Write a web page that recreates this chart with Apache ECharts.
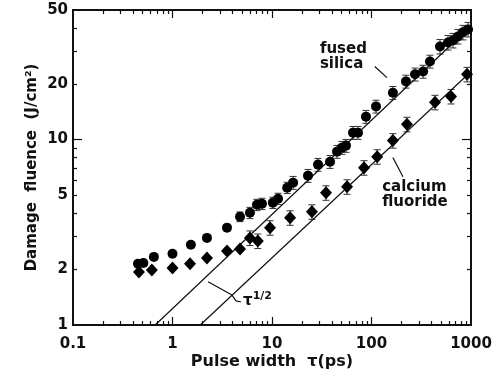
<!DOCTYPE html>
<html><head><meta charset="utf-8">
<script src="https://cdn.jsdelivr.net/npm/echarts@6/dist/echarts.min.js"></script>
<style>html,body{margin:0;padding:0;background:#fff}#c{width:494px;height:370px}</style>
</head><body><div id="c"></div>
<script>
// ---- data ----
const TAU_FS = [0.45,0.51,0.65,1.0,1.53,2.22,3.53,4.77,6.0,7.06,7.93,10.2,11.5,14.2,16.3,23.0,29.0,38.3,45.0,50.5,55.4,65.2,73.2,88.0,111,164,222,274,330,387,488,587,659,740,831,933];
const F_FS   = [2.14,2.16,2.33,2.42,2.71,2.95,3.35,3.84,4.03,4.45,4.51,4.57,4.80,5.50,5.86,6.39,7.33,7.60,8.61,9.05,9.28,10.9,10.9,13.3,15.1,17.9,20.6,22.5,23.3,26.4,31.8,33.4,34.3,36.0,37.9,39.3];
const ERR_FS = [0,0,0,0,0,0,0,0.06,0.07,0.07,0.07,0.07,0.07,0.07,0.08,0.08,0.08,0.08,0.08,0.08,0.08,0.08,0.08,0.08,0.08,0.08,0.08,0.08,0.08,0.08,0.09,0.09,0.09,0.09,0.09,0.09];
const TAU_CF = [0.46,0.62,1.0,1.50,2.22,3.53,4.77,6.0,7.2,9.55,15.2,25.2,34.9,56.8,84.1,114,164,227,435,630,912];
const F_CF   = [1.93,1.98,2.03,2.14,2.30,2.51,2.57,2.95,2.84,3.35,3.79,4.08,5.17,5.57,7.06,8.09,9.88,12.1,15.9,17.1,22.5];
const ERR_CF = [0,0,0,0,0,0,0,0.09,0.09,0.09,0.09,0.09,0.09,0.09,0.09,0.09,0.09,0.09,0.09,0.09,0.09];
const FIT_UPPER = [[0.67,1],[1000,41]];
const FIT_LOWER = [[1.9,1],[1000,23.3]];
const X_LABELS = [0.1,1,10,100,1000];
const X_MAJOR = [1,10,100];
const X_MINOR = [0.2,0.3,0.4,0.5,0.6,0.7,0.8,0.9,2,3,4,5,6,7,8,9,20,30,40,50,60,70,80,90,200,300,400,500,600,700,800,900];
const Y_LABELS = [1,2,5,10,20,50];
const Y_MAJOR = [10];
const Y_MINOR = [2,3,4,5,6,7,8,9,20,30,40];
const LABEL_FS = 'fused\nsilica';
const LABEL_CF = 'calcium\nfluoride';
const X_NAME = 'Pulse width  τ(ps)';
const Y_NAME = 'Damage  fluence  (J/cm²)';

// ---- chart ----
const FONT = 'DejaVu Sans';
const INK = '#111';
function pairs(xs, ys){ return xs.map((x,i)=>[x, ys[i]]); }
function errData(xs, ys, es){
  const out = [];
  xs.forEach((x,i)=>{ if (es[i] > 0) out.push([x, ys[i]*(1-es[i]), ys[i]*(1+es[i])]); });
  return out;
}
function errRender(params, api){
  const x = api.value(0), lo = api.value(1), hi = api.value(2);
  const a = api.coord([x, lo]), b = api.coord([x, hi]);
  const w = 3.5, st = {stroke:'#333', lineWidth:1};
  return {type:'group', children:[
    {type:'line', shape:{x1:a[0],y1:a[1],x2:b[0],y2:b[1]}, style:st},
    {type:'line', shape:{x1:a[0]-w,y1:a[1],x2:a[0]+w,y2:a[1]}, style:st},
    {type:'line', shape:{x1:b[0]-w,y1:b[1],x2:b[0]+w,y2:b[1]}, style:st}
  ]};
}
function axisBase(kind, pos, ticks, len, labels){
  return {
    type:'log', logBase:10, position:pos,
    min: kind==='x'?0.1:1, max: kind==='x'?1000:50,
    axisLine:{show:true, onZero:false, lineStyle:{color:INK, width:2}},
    axisTick:{show:true, inside:true, length:len, customValues:ticks, lineStyle:{color:INK, width:1.2}},
    axisLabel: labels ? {
      show:true, customValues:labels, color:INK, fontFamily:FONT, fontWeight:'bold', fontSize:15,
      margin: kind==='x'?12:5, formatter:(v)=>String(v)
    } : {show:false},
    splitLine:{show:false}, minorTick:{show:false}, minorSplitLine:{show:false}
  };
}
const xMain = axisBase('x','bottom',X_MAJOR,8,X_LABELS);
xMain.name = X_NAME; xMain.nameLocation = 'middle'; xMain.nameGap = 29; xMain.nameMoveOverlap = false;
xMain.nameTextStyle = {color:INK, fontFamily:FONT, fontWeight:'bold', fontSize:16};
const yMain = axisBase('y','left',Y_MAJOR,9,Y_LABELS);
yMain.name = Y_NAME; yMain.nameLocation = 'middle'; yMain.nameGap = 33; yMain.nameMoveOverlap = false;
yMain.nameTextStyle = {color:INK, fontFamily:FONT, fontWeight:'bold', fontSize:15};

const lineStyle = {color:INK, width:1.2, opacity:1};
function seg(data){ return {type:'line', data, symbol:'none', lineStyle, silent:true, z:3}; }
const txt = {color:INK, fontFamily:FONT, fontWeight:'bold', fontSize:15, lineHeight:15, align:'left'};
const solid = {color:'#000', opacity:1};

const option = {
  backgroundColor:'#fff',
  animation:false,
  grid:{left:73, right:23, top:10, bottom:45, outerBoundsMode:'none'},
  xAxis:[
    xMain,
    axisBase('x','bottom',X_MINOR,4,null),
    axisBase('x','top',X_MAJOR,8,null),
    axisBase('x','top',X_MINOR,4,null)
  ],
  yAxis:[
    yMain,
    axisBase('y','left',Y_MINOR,4,null),
    axisBase('y','right',Y_MAJOR,9,null),
    axisBase('y','right',Y_MINOR,4,null)
  ],
  series:[
    {type:'custom', renderItem:errRender, data:errData(TAU_FS,F_FS,ERR_FS), encode:{x:0,y:[1,2]}, silent:true, z:2},
    {type:'custom', renderItem:errRender, data:errData(TAU_CF,F_CF,ERR_CF), encode:{x:0,y:[1,2]}, silent:true, z:2},
    seg(FIT_UPPER),
    seg(FIT_LOWER),
    {type:'scatter', data:pairs(TAU_FS,F_FS), symbol:'circle', symbolSize:10, itemStyle:solid, z:4},
    {type:'scatter', data:pairs(TAU_CF,F_CF), symbol:'diamond', symbolSize:[12,13], itemStyle:solid, z:4},
    // annotation pointers
    seg([[108,24.8],[143,21.6]]),
    seg([[164,8.0],[207,6.3]]),
    seg([[2.28,1.71],[3.96,1.45],[4.35,1.35],[4.88,1.33]]),
    // annotation texts
    {type:'scatter', symbolSize:0, silent:true, z:5, itemStyle:solid,
     data:[{value:[30.3,27.9], name:LABEL_FS},{value:[128,5.04], name:LABEL_CF}],
     label:{show:true, position:'right', distance:0, formatter:(p)=>p.name, ...txt}},
    {type:'scatter', symbolSize:0, silent:true, z:5, itemStyle:solid,
     data:[{value:[5.12,1.365], name:'tau'}],
     label:{show:true, position:'right', distance:0, formatter:'{t|τ}{s|1/2}',
       rich:{t:{color:INK, fontFamily:FONT, fontWeight:'bold', fontSize:15, verticalAlign:'bottom', lineHeight:18},
             s:{color:INK, fontFamily:FONT, fontWeight:'bold', fontSize:11, verticalAlign:'top', lineHeight:18}}}}
  ]
};
const chart = echarts.init(document.getElementById('c'), null, {renderer:'canvas'});
chart.setOption(option);
</script>
</body></html>
